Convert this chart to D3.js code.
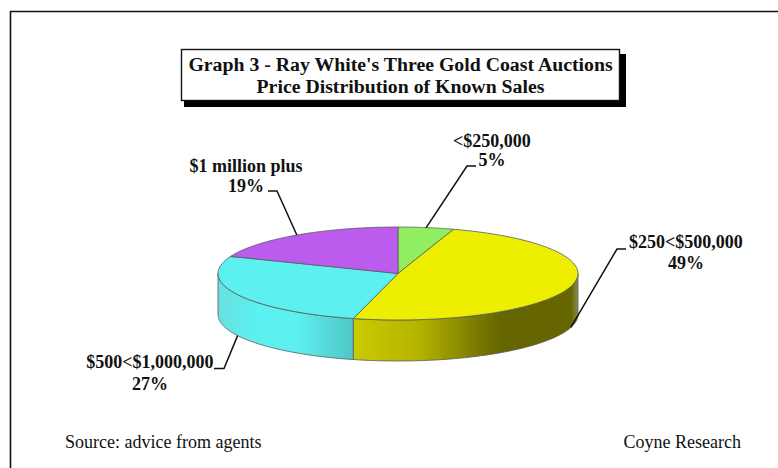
<!DOCTYPE html>
<html>
<head>
<meta charset="utf-8">
<style>
  html, body { margin: 0; padding: 0; background: #fff; }
  svg { display: block; }
  text { font-family: "Liberation Serif", serif; fill: #111; }
</style>
<script src="https://cdn.jsdelivr.net/npm/d3@7/dist/d3.min.js"></script>
</head>
<body>
<div id="chart"></div>
<script>
// Sale price bands and their share of known sales
const categories = ["<$250,000", "$250<$500,000", "$500<$1,000,000", "$1 million plus"];
const shares = [5, 49, 27, 19];
const titleLines = ["Graph 3 - Ray White's Three Gold Coast Auctions", "Price Distribution of Known Sales"];
const sourceNote = "Source: advice from agents";
const creditNote = "Coyne Research";

// Slice colours
const topColours = ["#90ee60", "#eeee00", "#5cf0f0", "#bb5cee"];

// Elbow, text anchor, first baseline and line gap of each callout
const callouts = [
  { elbow: [467, 166], end: [476, 166], textX: 492, textY: 146.5, gap: 19.5 },
  { elbow: [617, 249], end: [626, 249], textX: 686, textY: 248, gap: 21 },
  { elbow: [224, 368.5], end: [214, 368.5], textX: 150, textY: 368, gap: 22 },
  { elbow: [277, 191], end: [268, 191], textX: 246, textY: 172, gap: 20 }
];

const width = 778, height = 468;
const cx = 398, cy = 273.5, rx = 180, ry = 46.5, depth = 41;

const svg = d3.select("#chart").append("svg")
  .attr("width", width).attr("height", height);

// Shading along the rim, stepped the way the band colours run
const defs = svg.append("defs");
function rimGradient(id, x1, x2, stops) {
  const g = defs.append("linearGradient").attr("id", id)
    .attr("gradientUnits", "userSpaceOnUse")
    .attr("x1", x1).attr("x2", x2).attr("y1", 0).attr("y2", 0);
  stops.forEach(([o, c]) => g.append("stop").attr("offset", o).attr("stop-color", c));
}
rimGradient("rimYellow", cx - 48, cx + 180, [
  [0, "#cccc00"], [0.3, "#b4b400"], [0.55, "#7c7c00"], [0.66, "#666600"], [0.97, "#666600"], [1, "#8c8c50"]
]);
rimGradient("rimCyan", cx - 180, cx - 48, [
  [0, "#68e0e0"], [0.3, "#5cf0f0"], [0.6, "#5cf0f0"], [1, "#50c8c8"]
]);

// Outer frame, open towards the right and bottom page edges
svg.append("path")
  .attr("d", d3.line()([[10.5, height], [10.5, 11.5], [width, 11.5]]))
  .attr("fill", "none").attr("stroke", "#111").attr("stroke-width", 1.6);

// Title box with its drop shadow
svg.append("rect").attr("x", 184).attr("y", 54).attr("width", 442).attr("height", 53).attr("fill", "#000");
svg.append("rect").attr("x", 181.5).attr("y", 49.5).attr("width", 438).attr("height", 51)
  .attr("fill", "#fff").attr("stroke", "#111").attr("stroke-width", 1.4);
svg.selectAll("text.title").data(titleLines).join("text")
  .attr("class", "title")
  .attr("x", 400.5)
  .attr("y", (d, i) => 70.5 + i * 22.5)
  .attr("text-anchor", "middle")
  .attr("font-size", 19.8)
  .attr("font-weight", "bold")
  .text(d => d);

// Ellipse projection of a unit pie
const xScale = d3.scaleLinear().domain([-1, 1]).range([cx - rx, cx + rx]);
const yScale = d3.scaleLinear().domain([-1, 1]).range([cy - ry, cy + ry]);
const rimPoint = (a, drop = 0) => [xScale(Math.sin(a)), yScale(-Math.cos(a)) + drop];
const slices = d3.pie().sort(null).value(d => d)(shares);
const sweep = (a0, a1) => d3.range(0, 61).map(i => a0 + (a1 - a0) * i / 60);
const line = d3.line();
const edge = "#5a5a5a";

// Front wall, visible from the quarter-turn to the three-quarter turn
function wall(a0, a1, fill) {
  const arc = sweep(a0, a1);
  const outline = arc.map(a => rimPoint(a)).concat(arc.slice().reverse().map(a => rimPoint(a, depth)));
  svg.append("path").attr("d", line(outline) + "Z")
    .attr("fill", fill).attr("stroke", edge).attr("stroke-width", 0.8);
}
const yellowSlice = slices[1];
wall(Math.PI / 2, yellowSlice.endAngle, "url(#rimYellow)");
wall(yellowSlice.endAngle, Math.PI * 1.5, "url(#rimCyan)");

// Top face
svg.selectAll("path.slice").data(slices).join("path")
  .attr("class", "slice")
  .attr("d", d => line([[xScale(0), yScale(0)], ...sweep(d.startAngle, d.endAngle).map(a => rimPoint(a))]) + "Z")
  .attr("fill", (d, i) => topColours[i])
  .attr("stroke", edge)
  .attr("stroke-width", 0.8);

// Callout leaders start at each slice's mid angle, on the wall where it faces the viewer
const leaderStart = d => {
  const mid = (d.startAngle + d.endAngle) / 2;
  const front = Math.cos(mid) < 0;
  return rimPoint(mid, front ? depth : 0);
};
svg.selectAll("path.leader").data(slices).join("path")
  .attr("class", "leader")
  .attr("d", (d, i) => line([leaderStart(d), callouts[i].elbow, callouts[i].end]))
  .attr("fill", "none").attr("stroke", "#111").attr("stroke-width", 1.5);

// Callout text: band name over its share
const labels = svg.selectAll("g.label").data(slices).join("g").attr("class", "label")
  .attr("text-anchor", "middle").attr("font-size", 18).attr("font-weight", "bold");
labels.append("text")
  .attr("x", (d, i) => callouts[i].textX).attr("y", (d, i) => callouts[i].textY)
  .text((d, i) => categories[i]);
labels.append("text")
  .attr("x", (d, i) => callouts[i].textX).attr("y", (d, i) => callouts[i].textY + callouts[i].gap)
  .text(d => d.value + "%");

// Footnotes
svg.append("text").attr("x", 65).attr("y", 448).attr("font-size", 18).text(sourceNote);
svg.append("text").attr("x", 741).attr("y", 448).attr("font-size", 18).attr("text-anchor", "end").text(creditNote);
</script>
</body>
</html>
